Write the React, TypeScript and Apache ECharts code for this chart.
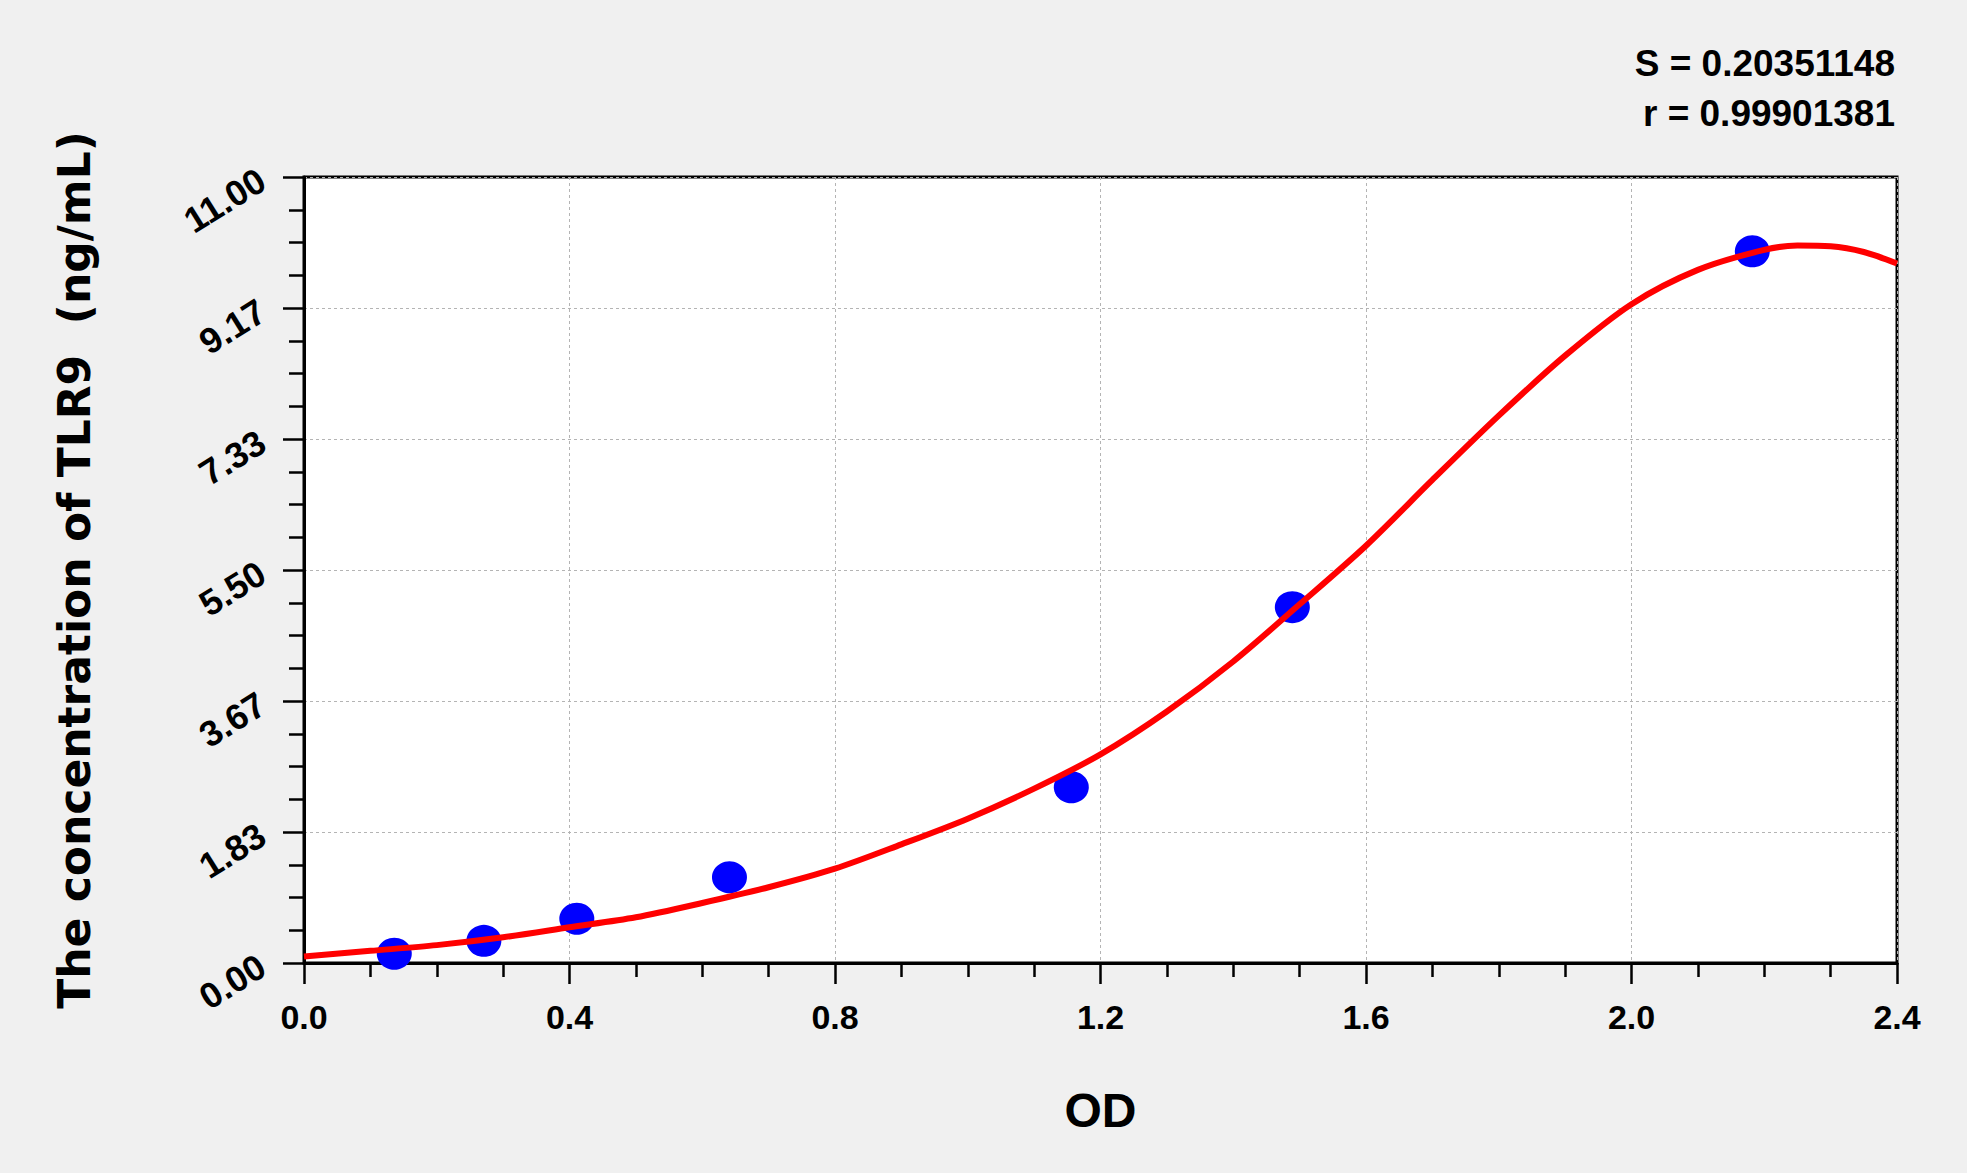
import React, { useEffect, useRef } from "react";
import * as echarts from "echarts";

// standard points (OD, concentration)
const stdOD = [0.136, 0.271, 0.411, 0.641, 1.156, 1.489, 2.182];
const stdConc = [0.13, 0.31, 0.62, 1.2, 2.46, 4.98, 9.96];

// fitted curve
const curveOD = [
  0, 0.1, 0.2, 0.3, 0.4, 0.5, 0.6, 0.7, 0.8, 0.9, 1.0, 1.1, 1.2, 1.3, 1.4,
  1.5, 1.6, 1.7, 1.8, 1.9, 2.0, 2.1, 2.2, 2.25, 2.3, 2.35, 2.4,
];
const curveConc = [
  0.09, 0.17, 0.25, 0.36, 0.5, 0.64, 0.84, 1.06, 1.32, 1.66, 2.02, 2.44, 2.92,
  3.52, 4.22, 5.02, 5.84, 6.76, 7.66, 8.5, 9.22, 9.7, 9.98, 10.04, 10.03, 9.95,
  9.79,
];

const xMax = 2.4;
const xStep = 0.4;
const yMax = 11;
const yStep = 11 / 6;

const statLines = ["S = 0.20351148", "r = 0.99901381"];
const xName = "OD";
const yName = "The concentration of TLR9  (ng/mL)";

const App: React.FC = () => {
  const chartRef = useRef<HTMLDivElement>(null);

  useEffect(() => {
    if (!chartRef.current) return;
    const chart = echarts.init(chartRef.current, undefined, { renderer: "svg" });

    const labelFont = {
      fontFamily: "Liberation Sans, Arial, sans-serif",
      fontWeight: "bold" as const,
      color: "#000",
    };

    const option: echarts.EChartsOption = {
      animation: false,
      backgroundColor: "#f0f0f0",
      grid: {
        left: 304,
        top: 177,
        right: 70,
        bottom: 210,
        show: true,
        backgroundColor: "#ffffff",
        borderColor: "#000",
        borderWidth: 3,
      },
      xAxis: {
        type: "value",
        min: 0,
        max: xMax,
        interval: xStep,
        name: xName,
        nameLocation: "middle",
        nameGap: 123,
        nameTextStyle: { ...labelFont, fontSize: 48 },
        axisLine: { show: true, lineStyle: { color: "#000", width: 3 } },
        axisTick: { show: true, length: 21, lineStyle: { color: "#000", width: 2.5 } },
        minorTick: { show: true, splitNumber: 4, length: 14, lineStyle: { color: "#000", width: 2.5 } },
        axisLabel: {
          ...labelFont,
          fontSize: 34,
          margin: 37,
          formatter: (v: number) => v.toFixed(1),
        },
        splitLine: { show: true, lineStyle: { color: "#b4b4b4", width: 1, type: [3, 3] } },
      },
      yAxis: {
        type: "value",
        min: 0,
        max: yMax,
        interval: yStep,
        name: yName,
        nameLocation: "middle",
        nameRotate: 90,
        nameGap: 208,
        nameTextStyle: {
          fontFamily: "DejaVu Sans, Verdana, sans-serif",
          fontWeight: "bold",
          fontSize: 44,
          color: "#000",
        },
        axisLine: { show: true, lineStyle: { color: "#000", width: 3 } },
        axisTick: { show: true, length: 21, lineStyle: { color: "#000", width: 2.5 } },
        minorTick: { show: true, splitNumber: 4, length: 15, lineStyle: { color: "#000", width: 2.5 } },
        axisLabel: {
          ...labelFont,
          fontSize: 36,
          margin: 42,
          rotate: 32,
          formatter: (v: number) => v.toFixed(2),
        },
        splitLine: { show: true, lineStyle: { color: "#b4b4b4", width: 1, type: [3, 3] } },
      },
      graphic: statLines.map((t, i) => ({
        type: "text",
        x: 1895,
        y: 63 + i * 50,
        style: {
          text: t,
          ...labelFont,
          fill: "#000",
          fontSize: 37,
          align: "right",
          verticalAlign: "middle",
        },
      })),
      series: [
        {
          name: "standards",
          type: "scatter",
          data: stdOD.map((x, i) => [x, stdConc[i]]),
          symbol: "circle",
          symbolSize: [35, 32],
          itemStyle: { color: "#0000ff", opacity: 1 },
          z: 2,
        },
        {
          name: "fit",
          type: "line",
          data: curveOD.map((x, i) => [x, curveConc[i]]),
          showSymbol: false,
          smooth: 0.3,
          lineStyle: { color: "#ff0000", width: 6 },
          z: 3,
        },
      ],
    };

    chart.setOption(option);
    return () => {
      chart.dispose();
    };
  }, []);

  return (
    <div
      ref={chartRef}
      style={{ position: "absolute", left: 0, top: 0, width: 1967, height: 1173 }}
    />
  );
};

export default App;
